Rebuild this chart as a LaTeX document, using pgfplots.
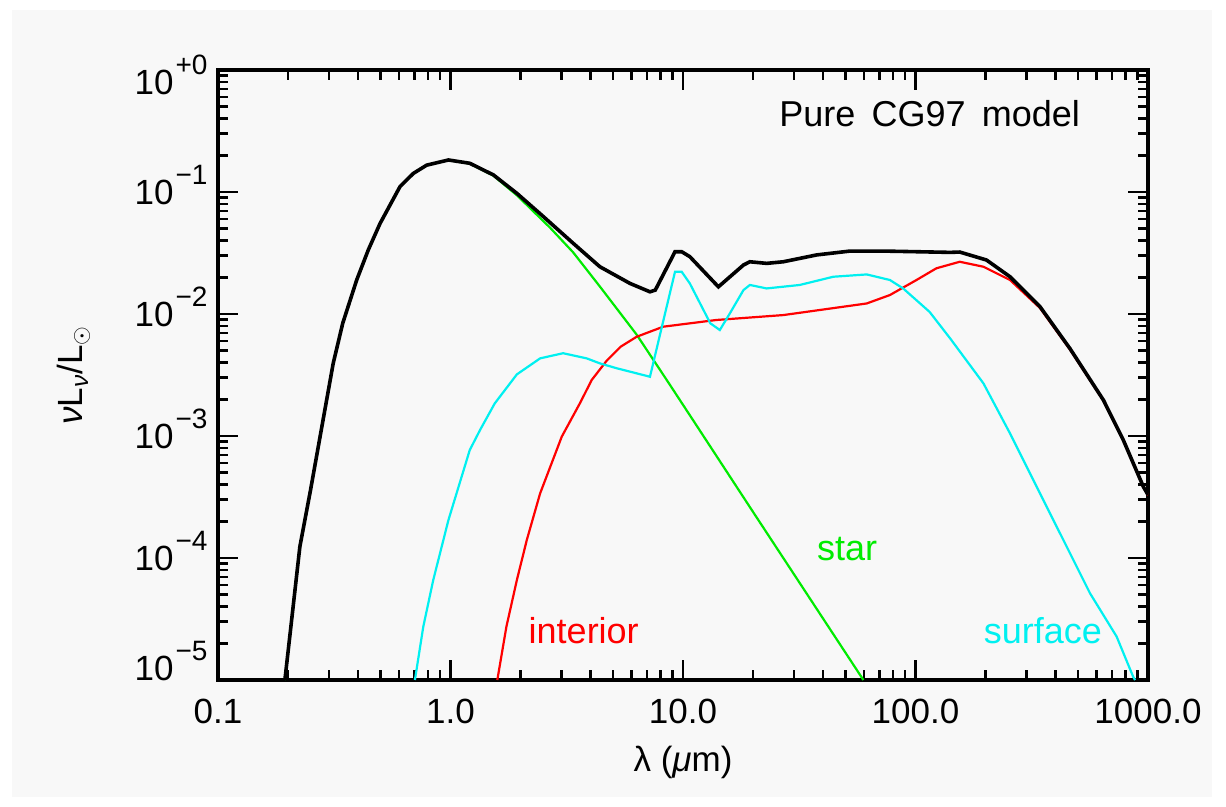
\documentclass[border=0pt]{standalone}
\usepackage{fontspec}
\setmainfont{Liberation Sans}
\usepackage{pgfplots}
\pgfplotsset{compat=1.18}
\definecolor{bg}{RGB}{248,248,248}
\definecolor{igreen}{RGB}{0,235,0}
\definecolor{ired}{RGB}{255,0,0}
\definecolor{icyan}{RGB}{0,240,240}
\newcommand{\sups}[1]{10\hspace{1pt}\raisebox{10pt}[0pt][0pt]{\fontsize{14pt}{14pt}\selectfont #1}}

\pgfplotstableread{
x y
0.194 1.0e-5
0.225 1.24e-4
0.25 3.6e-4
0.279 1.16e-3
0.313 3.94e-3
0.344 8.4e-3
0.395 0.019
0.443 0.0335
0.498 0.0553
0.607 0.111
0.692 0.142
0.79 0.166
0.98 0.183
1.21 0.172
1.53 0.138
1.93 0.0975
2.51 0.0628
3.37 0.038
4.39 0.0244
5.92 0.0178
7.21 0.0152
7.6 0.0157
9.24 0.0324
9.87 0.0324
10.7 0.0295
14.2 0.0167
18.2 0.0252
19.4 0.0268
22.9 0.0260
27 0.0268
37.6 0.0305
52.3 0.0328
72.7 0.0328
101 0.0324
141 0.0320
155 0.0322
202 0.0277
255 0.0202
343 0.0115
462 0.0052
643 1.97e-3
783 9.27e-4
955 3.84e-4
1000 3.3e-4
}\total

\pgfplotstableread{
x y
0.194 1.0e-5
0.225 1.24e-4
0.25 3.6e-4
0.279 1.16e-3
0.313 3.94e-3
0.344 8.4e-3
0.395 0.019
0.443 0.0335
0.498 0.0553
0.607 0.111
0.692 0.142
0.79 0.166
0.98 0.183
1.21 0.171
1.53 0.136
1.93 0.094
2.68 0.051
3.37 0.032
4.39 0.0168
6.31 0.0068
8.51 0.00288
11.1 0.00133
20 2.39e-4
59.7 1.0e-5
}\star

\pgfplotstableread{
x y
1.59 1.0e-5
1.74 2.74e-5
1.93 6.6e-5
2.13 1.41e-4
2.43 3.39e-4
3.01 9.88e-4
3.6 1.85e-3
4.05 2.88e-3
4.7 4.15e-3
5.4 5.4e-3
6.31 6.5e-3
8.22 7.87e-3
13.9 8.93e-3
27 9.8e-3
61.7 0.0122
77.6 0.0143
101 0.019
123 0.0237
155 0.0268
196 0.0244
255 0.0190
343 0.0112
462 0.0051
643 1.95e-3
783 9.2e-4
955 3.8e-4
1000 3.28e-4
}\interior

\pgfplotstableread{
x y
0.703 1.0e-5
0.764 2.74e-5
0.843 6.6e-5
0.98 2.05e-4
1.21 7.67e-4
1.34 1.12e-3
1.55 1.85e-3
1.93 3.2e-3
2.43 4.33e-3
3.05 4.77e-3
3.85 4.33e-3
4.39 3.94e-3
5.19 3.59e-3
7.21 3.06e-3
9.24 0.0222
9.87 0.0222
10.7 0.0178
13.1 8.4e-3
14.4 7.39e-3
15.9 0.0101
18.2 0.0157
19.4 0.0173
22.9 0.0162
31.8 0.0173
44.3 0.0202
61.7 0.0211
77.6 0.0190
88.5 0.0162
115 0.0104
141 6.3e-3
196 2.7e-3
255 1.05e-3
332 3.84e-4
432 1.41e-4
563 5.14e-5
733 2.27e-5
864 1.06e-5
880 1.0e-5
}\surface

\begin{document}
\begin{tikzpicture}
\fill[white] (0,0) rectangle (613pt,403.5pt);
\fill[bg] (6pt,5pt) rectangle (606pt,398.5pt);
\begin{axis}[
  at={(109pt,63.5pt)}, anchor=south west,
  scale only axis, width=465pt, height=305pt,
  xmode=log, ymode=log,
  xmin=0.1, xmax=1000, ymin=1e-5, ymax=1,
  axis line style={line width=1.6pt},
  every tick/.style={black, line width=1.3pt},
  tick align=inside,
  major tick length=10pt, minor tick length=5pt,
  xtick={0.1,1,10,100,1000},
  xticklabels={0.1,1.0,10.0,100.0,1000.0},
  minor xtick={0.2,0.3,0.4,0.5,0.6,0.7,0.8,0.9,2,3,4,5,6,7,8,9,20,30,40,50,60,70,80,90,200,300,400,500,600,700,800,900},
  ytick={1e-5,1e-4,1e-3,1e-2,1e-1,1},
  yticklabels={{\raisebox{6pt}[\height][\depth]{\sups{−5}}},{\sups{−4}},{\sups{−3}},{\sups{−2}},{\sups{−1}},{\raisebox{-6pt}[\height][\depth]{\sups{+0}}}},
  minor ytick={2e-5,3e-5,4e-5,5e-5,6e-5,7e-5,8e-5,9e-5,2e-4,3e-4,4e-4,5e-4,6e-4,7e-4,8e-4,9e-4,2e-3,3e-3,4e-3,5e-3,6e-3,7e-3,8e-3,9e-3,2e-2,3e-2,4e-2,5e-2,6e-2,7e-2,8e-2,9e-2,0.2,0.3,0.4,0.5,0.6,0.7,0.8,0.9},
  xticklabel style={font=\fontsize{17.5pt}{17.5pt}\selectfont, yshift=-6pt},
  yticklabel style={font=\fontsize{17.5pt}{17.5pt}\selectfont, xshift=-1.7pt, anchor=east},
  xlabel={λ (\textit{μ}m)},
  xlabel style={font=\fontsize{17.5pt}{17.5pt}\selectfont, at={(axis description cs:0.5,-0.135)}, anchor=center},
  ylabel={\textit{ν}L\textsubscript{\textit{ν}}/L\textsubscript{$\odot$}},
  ylabel style={font=\fontsize{17.5pt}{17.5pt}\selectfont, at={(axis description cs:-0.155,0.5)}, anchor=center},
]
\addplot[igreen, line width=1.1pt] table[x=x,y=y] {\star};
\addplot[ired, line width=1.1pt] table[x=x,y=y] {\interior};
\addplot[icyan, line width=1.1pt] table[x=x,y=y] {\surface};
\addplot[black, line width=1.8pt] table[x=x,y=y] {\total};
\node[anchor=base east, font=\fontsize{18pt}{18pt}\selectfont] at (axis description cs:0.9344,0.9066) {Pure\hspace{0.45em}CG97\hspace{0.45em}model};
\node[anchor=base west, text=igreen, font=\fontsize{18pt}{18pt}\selectfont] at (axis description cs:0.6366,0.1967) {star};
\node[anchor=base west, text=ired, font=\fontsize{18pt}{18pt}\selectfont] at (axis description cs:0.3265,0.0601) {interior};
\node[anchor=base west, text=icyan, font=\fontsize{18pt}{18pt}\selectfont] at (axis description cs:0.8158,0.0601) {surface};
\end{axis}
\pgfresetboundingbox
\useasboundingbox (0,0) rectangle (613pt,403.5pt);
\end{tikzpicture}
\end{document}
